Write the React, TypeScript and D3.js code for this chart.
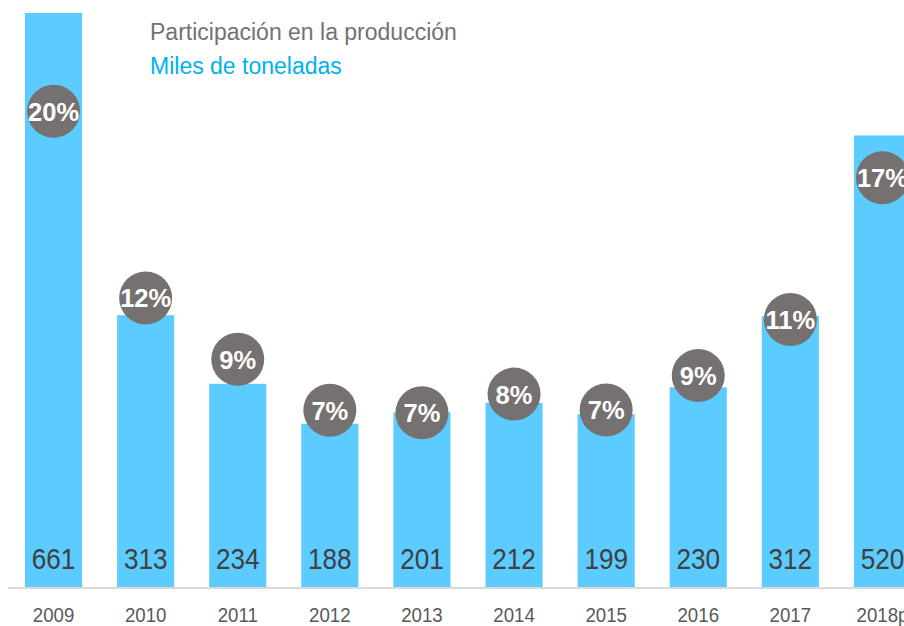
import React from "react";
import * as d3 from "d3";

const years = ["2009", "2010", "2011", "2012", "2013", "2014", "2015", "2016", "2017", "2018p"];
const tons = [661, 313, 234, 188, 201, 212, 199, 230, 312, 520];
const sharePct = [20.0, 12.0, 9.37, 7.19, 7.08, 7.88, 7.2, 8.68, 11.08, 17.15];
const shareLabels = ["20%", "12%", "9%", "7%", "7%", "8%", "7%", "9%", "11%", "17%"];
const titleLines = ["Participación en la producción", "Miles de toneladas"];

const W = 904;
const H = 626;
const FONT = "'Liberation Sans', Arial, sans-serif";

export default function App() {
  const x = d3
    .scaleBand<string>()
    .domain(years)
    .range([7.5, 928.5])
    .paddingInner(0.38)
    .paddingOuter(0.19);
  const y = d3.scaleLinear().domain([0, 661]).range([587, 13]);
  const y2 = d3.scaleLinear().domain([0, 20]).range([578, 111.3]);
  const r = 26.5;

  return (
    <svg
      width={W}
      height={H}
      style={{ position: "absolute", left: 0, top: 0, display: "block" }}
      fontFamily={FONT}
    >
      <rect x={0} y={0} width={W} height={H} fill="#ffffff" />
      {years.map((yr, i) => (
        <rect
          key={"b" + yr}
          x={x(yr)!}
          y={y(tons[i])}
          width={x.bandwidth()}
          height={y(0) - y(tons[i])}
          fill="#5ccbff"
        />
      ))}
      <line x1={8} x2={W} y1={588} y2={588} stroke="#d9d9d9" strokeWidth={2} />
      {years.map((yr, i) => {
        const cx = x(yr)! + x.bandwidth() / 2;
        return (
          <g key={"v" + yr}>
            <g transform={`translate(${cx},${569}) scale(0.87,1)`}>
              <text textAnchor="middle" fontSize={30} fill="#404040">
                {tons[i]}
              </text>
            </g>
            <g transform={`translate(${cx},${621.8}) scale(0.89,1)`}>
              <text textAnchor="middle" fontSize={21} fill="#595959">
                {yr}
              </text>
            </g>
          </g>
        );
      })}
      {years.map((yr, i) => {
        const cx = x(yr)! + x.bandwidth() / 2;
        const cy = y2(sharePct[i]);
        return (
          <g key={"c" + yr}>
            <circle cx={cx} cy={cy} r={r} fill="#767171" />
            <text
              x={cx}
              y={cy + 9.5}
              textAnchor="middle"
              fontSize={25.5}
              fontWeight="bold"
              fill="#ffffff"
            >
              {shareLabels[i]}
            </text>
          </g>
        );
      })}
      <text x={150} y={40} fontSize={23} fill="#767171">
        {titleLines[0]}
      </text>
      <text x={150} y={74} fontSize={23} fill="#00b0f0">
        {titleLines[1]}
      </text>
    </svg>
  );
}
